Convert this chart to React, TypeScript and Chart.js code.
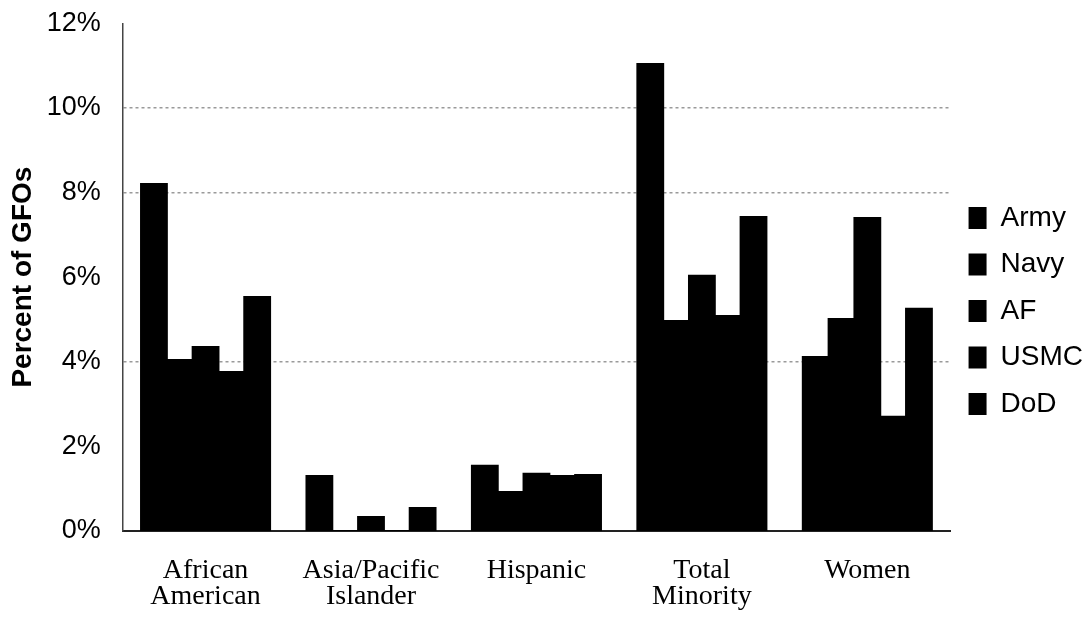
import React, { useEffect, useRef } from "react";
import { Chart, registerables } from "chart.js";

Chart.register(...registerables);

const categories: string[][] = [
  ["African", "American"],
  ["Asia/Pacific", "Islander"],
  ["Hispanic"],
  ["Total", "Minority"],
  ["Women"],
];
const seriesNames = ["Army", "Navy", "AF", "USMC", "DoD"];
const army = [8.2, 1.3, 1.54, 11.04, 4.11];
const navy = [4.04, 0, 0.92, 4.96, 5.01];
const af = [4.35, 0.33, 1.35, 6.03, 7.4];
const usmc = [3.76, 0, 1.3, 5.08, 2.7];
const dod = [5.53, 0.54, 1.32, 7.42, 5.25];
const yTickValues = [0, 2, 4, 6, 8, 10, 12];
const gridShownAt = [4, 8, 10];

export default function App() {
  const ref = useRef<HTMLCanvasElement | null>(null);

  useEffect(() => {
    if (!ref.current) return;
    const values = [army, navy, af, usmc, dod];
    const chart = new Chart(ref.current, {
      type: "bar",
      data: {
        labels: categories,
        datasets: seriesNames.map((name, i) => ({
          label: name,
          data: values[i],
          backgroundColor: "#000000",
          borderWidth: 0,
          inflateAmount: 1,
          categoryPercentage: 0.78,
          barPercentage: 1.0,
        })),
      },
      options: {
        animation: false,
        responsive: false,
        layout: { padding: { left: 0, right: -7, top: -15, bottom: -19 } },
        plugins: {
          tooltip: { enabled: false },
          legend: {
            position: "right",
            align: "center",
            labels: {
              color: "#000",
              boxWidth: 18,
              boxHeight: 22,
              padding: 18.5,
              font: { family: "'Liberation Sans', Arial, sans-serif", size: 28 },
            },
          },
        },
        scales: {
          x: {
            grid: { display: false, drawTicks: false },
            border: { display: true, color: "#222", width: 2 },
            ticks: {
              color: "#000",
              padding: 27,
              font: { family: "'Liberation Serif', 'Times New Roman', serif", size: 28, lineHeight: 0.93 },
              maxRotation: 0,
              autoSkip: false,
            },
          },
          y: {
            min: 0,
            max: 12,
            afterBuildTicks: (axis: any) => {
              axis.ticks = yTickValues.map((v) => ({ value: v }));
            },
            grid: {
              drawTicks: false,
              color: (ctx: any) =>
                ctx.tick && gridShownAt.includes(ctx.tick.value) ? "#9a9a9a" : "rgba(0,0,0,0)",
              lineWidth: 1.5,
            },
            border: { display: true, color: "#444", width: 1.5, dash: [3, 3] },
            ticks: {
              color: "#000",
              padding: 22,
              font: { family: "'Liberation Sans', Arial, sans-serif", size: 27, lineHeight: 0.1 },
              callback: (v: any) => v + "%",
            },
            title: {
              display: true,
              text: "Percent of GFOs",
              color: "#000",
              padding: { top: 22, bottom: 0 },
              font: { family: "'Liberation Sans', Arial, sans-serif", size: 28, weight: "bold", lineHeight: 0.1 },
            },
          },
        },
      },
    });
    return () => chart.destroy();
  }, []);

  return (
    <div style={{ position: "fixed", left: 0, top: 0, width: 1086, height: 618, background: "#fff" }}>
      <canvas ref={ref} width={1086} height={618} />
    </div>
  );
}
